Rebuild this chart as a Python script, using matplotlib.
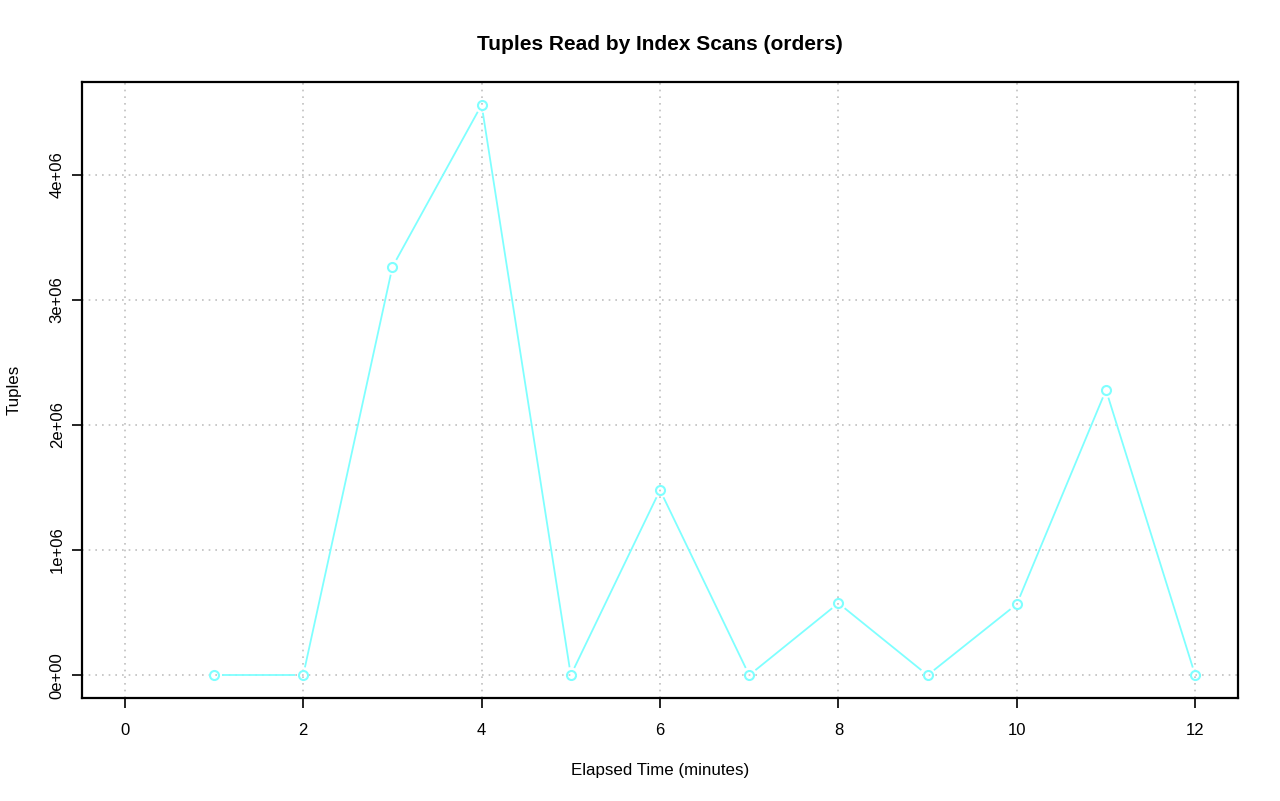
import matplotlib
matplotlib.use("Agg")
import matplotlib.pyplot as plt
import numpy as np

plt.rcParams['font.family'] = ['Liberation Sans', 'DejaVu Sans']

minutes = [1, 2, 3, 4, 5, 6, 7, 8, 9, 10, 11, 12]
tuples = [0, 0, 3.264e6, 4.56e6, 0, 1.48e6, 0, 0.576e6, 0, 0.568e6, 2.28e6, 0]
x_ticks = [0, 2, 4, 6, 8, 10, 12]
y_ticks = [0, 1e6, 2e6, 3e6, 4e6]
y_labels = ["0e+00", "1e+06", "2e+06", "3e+06", "4e+06"]

color = "#7FFFFF"
W, H = 1280, 801
fig = plt.figure(figsize=(W / 100, H / 100), dpi=100)
ax = fig.add_axes([82 / W, 1 - 698 / H, (1238 - 82) / W, (698 - 82) / H])

xmin, xmax = 0, 12
ymin, ymax = 0, max(tuples)
dx = (xmax - xmin) * 0.04
dy = (ymax - ymin) * 0.04
ax.set_xlim(xmin - dx, xmax + dx)
ax.set_ylim(ymin - dy, ymax + dy)

ax.set_xticks(x_ticks)
ax.set_yticks(y_ticks)
ax.set_yticklabels(y_labels, rotation=90, va='center')
ax.tick_params(direction='out', length=7.5, width=1.2, labelsize=12, colors='black')
ax.tick_params(axis='x', pad=10.5)
ax.tick_params(axis='y', pad=5)
for s in ax.spines.values():
    s.set_linewidth(1.6)

ax.grid(True, color='#c0c0c0', linestyle=(0, (1, 3)), linewidth=1.2)
ax.set_axisbelow(True)

# type="b": line segments with gaps around points
fig.canvas.draw()
trans = ax.transData
inv = trans.inverted()
pts = trans.transform(np.column_stack([minutes, tuples]))
gap = 8.0
for i in range(len(pts) - 1):
    p0, p1 = pts[i], pts[i + 1]
    d = p1 - p0
    L = np.hypot(*d)
    if L <= 2 * gap:
        continue
    u = d / L
    a = inv.transform(p0 + u * gap)
    b = inv.transform(p1 - u * gap)
    ax.plot([a[0], b[0]], [a[1], b[1]], color=color, linewidth=1.3, solid_capstyle='butt')

ax.plot(minutes, tuples, linestyle='none', marker='o', markersize=6.5,
        markerfacecolor='none', markeredgecolor=color, markeredgewidth=1.5)

cx = (82 + 1238) / 2 / W
fig.text(cx, 1 - 44 / H, "Tuples Read by Index Scans (orders)", ha='center', va='center',
         fontsize=15, fontweight='bold')
fig.text(cx, 1 - 770 / H, "Elapsed Time (minutes)", ha='center', va='center', fontsize=12.2)
fig.text(14 / W, 1 - 390 / H, "Tuples", ha='center', va='center', rotation=90, fontsize=12.2)

fig.savefig("out.png", dpi=100)
